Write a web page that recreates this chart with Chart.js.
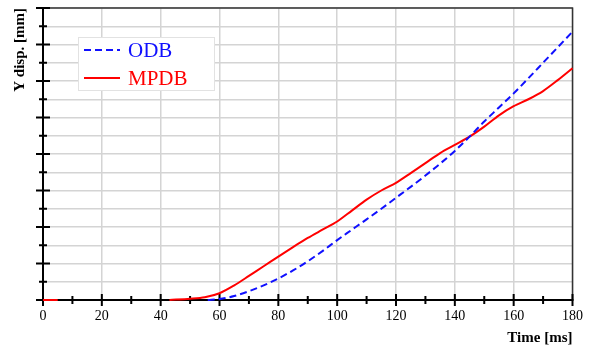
<!DOCTYPE html>
<html>
<head>
<meta charset="utf-8">
<script src="https://cdn.jsdelivr.net/npm/chart.js@4.4.1/dist/chart.umd.min.js"></script>
<style>
  body { margin: 0; background: #fff; }
  #wrap { width: 591px; height: 347px; }
</style>
</head>
<body>
<div id="wrap"><canvas id="dispChart" width="591" height="347"></canvas></div>
<script>
// values
const odbTime = [56, 60, 65, 70, 75, 80, 85, 90, 95, 100, 105, 110, 115, 120, 125, 130, 135, 140, 145, 150, 155, 160, 165, 170, 175, 180];
const odbDisp = [0, 0.05, 0.22, 0.48, 0.8, 1.18, 1.62, 2.12, 2.68, 3.28, 3.85, 4.42, 5.0, 5.6, 6.2, 6.82, 7.47, 8.17, 8.95, 9.78, 10.55, 11.32, 12.15, 13.0, 13.85, 14.7];

const mpdbTime = [0, 5, 20, 43, 50, 55, 60, 65, 70, 75, 80, 85, 90, 95, 100, 105, 110, 115, 120, 125, 130, 135, 140, 145, 150, 155, 160, 165, 170, 175, 180];
const mpdbDisp = [0, 0, null, 0, 0.07, 0.15, 0.37, 0.8, 1.32, 1.85, 2.38, 2.9, 3.4, 3.85, 4.3, 4.9, 5.5, 6.0, 6.42, 6.95, 7.5, 8.05, 8.5, 8.95, 9.5, 10.12, 10.62, 11.0, 11.45, 12.05, 12.7];

const xMin = 0, xMax = 180, xStep = 10;
const yMin = 0, yMax = 16, yStep = 1;

const serif = '"Liberation Serif", "DejaVu Serif", serif';

function toPoints(xs, ys) {
  return xs.map((x, i) => ({ x: x, y: ys[i] }));
}

// ticks crossing the axes, plus the thin top / right frame
const frameAndTicks = {
  id: 'frameAndTicks',
  beforeDatasetsDraw(chart) {
    const ctx = chart.ctx;
    const a = chart.chartArea;
    const xs = chart.scales.x;
    const ys = chart.scales.y;
    ctx.save();
    ctx.strokeStyle = '#333';
    ctx.lineWidth = 1.5;
    ctx.beginPath();
    ctx.moveTo(a.left, a.top);
    ctx.lineTo(a.right, a.top);
    ctx.lineTo(a.right, a.bottom);
    ctx.stroke();

    ctx.strokeStyle = '#000';
    ctx.lineWidth = 2;
    for (let v = xMin; v <= xMax; v += xStep) {
      const px = xs.getPixelForValue(v);
      const len = v % 20 === 0 ? 6 : 4;
      ctx.beginPath();
      ctx.moveTo(px, a.bottom - len);
      ctx.lineTo(px, a.bottom + len);
      ctx.stroke();
    }
    for (let v = yMin; v <= yMax; v += yStep) {
      const py = ys.getPixelForValue(v);
      const len = v % 2 === 0 ? 7 : 4;
      ctx.beginPath();
      ctx.moveTo(a.left - len, py);
      ctx.lineTo(a.left + len, py);
      ctx.stroke();
    }
    ctx.restore();
  }
};

// legend box inside the plot
const boxLegend = {
  id: 'boxLegend',
  afterDraw(chart) {
    const ctx = chart.ctx;
    ctx.save();
    ctx.fillStyle = '#fff';
    ctx.fillRect(78, 37, 136, 53);
    ctx.strokeStyle = '#e2e2e2';
    ctx.lineWidth = 1;
    ctx.strokeRect(78.5, 37.5, 136, 53);

    chart.data.datasets.forEach((ds, i) => {
      const y = 50 + i * 28;
      ctx.strokeStyle = ds.borderColor;
      ctx.lineWidth = 2;
      ctx.setLineDash(ds.borderDash || []);
      ctx.beginPath();
      ctx.moveTo(84, y);
      ctx.lineTo(120, y);
      ctx.stroke();
      ctx.setLineDash([]);
      ctx.fillStyle = ds.borderColor;
      ctx.font = '21px ' + serif;
      ctx.textBaseline = 'middle';
      ctx.textAlign = 'left';
      ctx.fillText(ds.label, 128, y + 1);
    });
    ctx.restore();
  }
};

new Chart(document.getElementById('dispChart'), {
  type: 'line',
  data: {
    datasets: [
      {
        label: 'ODB',
        data: toPoints(odbTime, odbDisp),
        borderColor: '#1010ff',
        borderWidth: 2,
        borderDash: [7, 4],
        pointRadius: 0,
        cubicInterpolationMode: 'monotone',
        clip: 5
      },
      {
        label: 'MPDB',
        data: toPoints(mpdbTime, mpdbDisp),
        borderColor: '#ff0000',
        borderWidth: 2,
        pointRadius: 0,
        tension: 0.3,
        spanGaps: false,
        clip: 5
      }
    ]
  },
  options: {
    responsive: false,
    animation: false,
    layout: { padding: { top: 8, right: 18, left: 0, bottom: 0 } },
    plugins: {
      legend: { display: false },
      tooltip: { enabled: false }
    },
    scales: {
      x: {
        type: 'linear',
        min: xMin,
        max: xMax,
        afterFit(scale) { scale.height = 47; },
        ticks: {
          stepSize: 20,
          padding: 8,
          color: '#000',
          font: { family: serif, size: 14 }
        },
        grid: { color: '#d4d4d4', lineWidth: 1.5, drawTicks: false },
        border: { display: true, color: '#000', width: 2 },
        title: {
          display: true,
          text: 'Time [ms]',
          align: 'end',
          color: '#000',
          font: { family: serif, size: 15, weight: 'bold' },
          padding: { top: 0, bottom: 0 }
        }
      },
      y: {
        min: yMin,
        max: yMax,
        afterFit(scale) { scale.width = 43; },
        afterBuildTicks(scale) {
          scale.ticks = [];
          for (let v = yMin; v <= yMax; v += yStep) scale.ticks.push({ value: v });
        },
        ticks: { display: false },
        grid: { color: '#d4d4d4', lineWidth: 1.5, drawTicks: false },
        border: { display: true, color: '#000', width: 2 },
        title: {
          display: true,
          text: 'Y disp. [mm]',
          align: 'end',
          color: '#000',
          font: { family: serif, size: 15, weight: 'bold' },
          padding: { top: 11, bottom: 0 }
        }
      }
    }
  },
  plugins: [frameAndTicks, boxLegend]
});
</script>
</body>
</html>
